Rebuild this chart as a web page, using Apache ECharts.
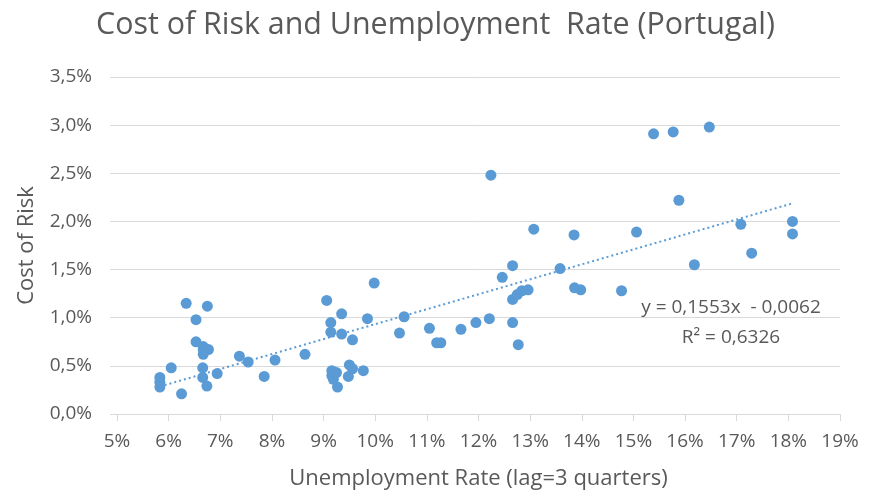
<!DOCTYPE html>
<html>
<head>
<meta charset="utf-8">
<script src="https://cdn.jsdelivr.net/npm/echarts@6/dist/echarts.min.js"></script>
<style>html,body{margin:0;padding:0;background:#fff}#c{width:883px;height:495px}</style>
</head>
<body>
<div id="c"></div>
<script>
// Unemployment rate (%, lag = 3 quarters)
const unemployment = [6.34,6.75,6.53,6.53,6.67,6.67,6.77,6.67,6.05,5.83,5.83,5.83,6.25,6.66,6.66,6.74,6.94,7.37,7.54,8.06,7.85,
  9.98,9.06,9.35,9.14,9.14,9.35,9.56,9.85,10.56,10.47,11.05,11.19,11.27,11.66,11.95,12.21,8.64,9.16,9.25,9.16,9.19,9.50,9.56,9.77,9.48,9.27,
  12.24,13.07,13.85,12.66,12.46,13.58,12.66,12.75,12.84,12.96,13.86,13.98,14.77,12.66,12.77,
  15.39,15.77,16.47,15.88,15.06,17.08,18.08,18.08,17.29,16.18];
// Cost of risk (%)
const costOfRisk = [1.15,1.12,0.98,0.75,0.70,0.67,0.67,0.62,0.48,0.38,0.33,0.28,0.21,0.48,0.38,0.29,0.42,0.60,0.54,0.56,0.39,
  1.36,1.18,1.04,0.95,0.85,0.83,0.77,0.99,1.01,0.84,0.89,0.74,0.74,0.88,0.95,0.99,0.62,0.45,0.43,0.40,0.36,0.51,0.47,0.45,0.39,0.28,
  2.48,1.92,1.86,1.54,1.42,1.51,1.19,1.24,1.28,1.29,1.31,1.29,1.28,0.95,0.72,
  2.91,2.93,2.98,2.22,1.89,1.97,2.00,1.87,1.67,1.55];
// Linear trendline reported on the chart: y = 0.1553x - 0.0062
const trendSlope = 0.1553, trendIntercept = -0.0062;
const equationText = 'y = 0,1553x  - 0,0062';
const r2Text = 'R² = 0,6326';
const xTicks = [5,6,7,8,9,10,11,12,13,14,15,16,17,18,19];
const yTicks = [0,0.5,1,1.5,2,2.5,3,3.5];

const points = unemployment.map((x,i)=>[x,costOfRisk[i]]);
const xMin = Math.min(...unemployment), xMax = Math.max(...unemployment);
const trend = [xMin,xMax].map(x=>[x,(trendSlope*x/100+trendIntercept)*100]);

const FONT = 'Open Sans';
const GRAY = '#595959';
const chart = echarts.init(document.getElementById('c'));
chart.setOption({
  animation:false,
  backgroundColor:'#fff',
  textStyle:{fontFamily:FONT},
  title:{text:'Cost of Risk and Unemployment  Rate (Portugal)',left:91,top:5,
    textStyle:{fontFamily:FONT,fontSize:30.4,fontWeight:'normal',color:GRAY}},
  grid:{left:117,right:43,top:77,bottom:79},
  xAxis:{type:'value',min:xTicks[0],max:xTicks[xTicks.length-1],interval:1,
    name:'Unemployment Rate (lag=3 quarters)',nameLocation:'middle',nameGap:54,
    nameTextStyle:{fontSize:22,color:GRAY,fontFamily:FONT},
    axisLine:{show:true,lineStyle:{color:'#d9d9d9'}},
    axisTick:{show:true,length:7,lineStyle:{color:'#d9d9d9'}},
    axisLabel:{formatter:v=>v+'%',fontSize:19,color:GRAY,margin:18,fontFamily:FONT},
    splitLine:{show:false}},
  yAxis:{type:'value',min:yTicks[0],max:yTicks[yTicks.length-1],interval:0.5,
    name:'Cost of Risk',nameLocation:'middle',nameGap:79,nameRotate:90,
    nameTextStyle:{fontSize:22,color:GRAY,fontFamily:FONT},
    axisLine:{show:false},
    axisTick:{show:true,length:7,lineStyle:{color:'#d9d9d9'}},
    axisLabel:{formatter:v=>v.toFixed(1).replace('.',',')+'%',fontSize:19,color:GRAY,margin:25,fontFamily:FONT},
    splitLine:{show:true,lineStyle:{color:'#d9d9d9'}}},
  series:[
    {type:'line',data:trend,symbol:'none',silent:true,
      lineStyle:{color:'#5b9bd5',width:2,type:[2,3]},z:1},
    {type:'scatter',data:points,symbolSize:11,itemStyle:{color:'#5b9bd5',opacity:1},z:2}
  ],
  graphic:[
    {type:'text',x:731,y:308,style:{text:equationText,fontFamily:FONT,fontSize:19,fill:GRAY,align:'center',verticalAlign:'middle'}},
    {type:'text',x:731,y:338,style:{text:r2Text,fontFamily:FONT,fontSize:19,fill:GRAY,align:'center',verticalAlign:'middle'}}
  ]
});
</script>
</body>
</html>
